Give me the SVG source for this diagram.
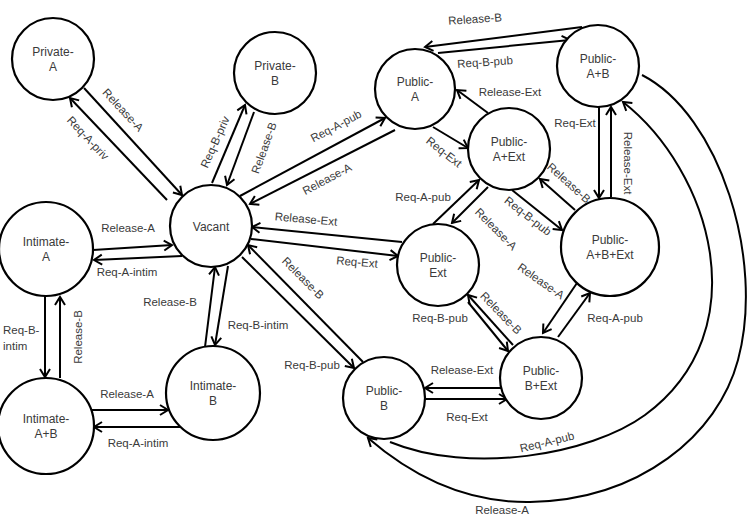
<svg xmlns="http://www.w3.org/2000/svg" width="749" height="522" viewBox="0 0 749 522">
<style>
.n circle{fill:#fff;stroke:#000;stroke-width:2.2}
.n text{font-family:"Liberation Sans",Arial,sans-serif;font-size:12px;fill:#3a3a3a;text-anchor:middle;dominant-baseline:central}
#edges line,#edges path{stroke:#000;stroke-width:2;fill:none;marker-end:url(#ah)}
.l{font-family:"Liberation Sans",Arial,sans-serif;font-size:11.5px;fill:#3a3a3a;text-anchor:middle;dominant-baseline:central}
.ls{text-anchor:start}
</style>
<defs>
<marker id="ah" markerUnits="userSpaceOnUse" markerWidth="14" markerHeight="14" refX="0" refY="0" viewBox="-10 -7 12 14" orient="auto">
<path d="M-8,-5 L0,0 L-8,5" fill="none" stroke="#000" stroke-width="2"/>
</marker>
</defs>
<rect width="749" height="522" fill="#fff"/>
<g id="edges">
<line x1="84" y1="88" x2="182" y2="195"/>
<line x1="167" y1="200" x2="70" y2="98"/>
<line x1="212" y1="183" x2="245" y2="105"/>
<line x1="254" y1="112" x2="227" y2="185"/>
<line x1="240" y1="196" x2="385" y2="118"/>
<line x1="395" y1="130" x2="250" y2="204"/>
<line x1="93" y1="250" x2="172" y2="245"/>
<line x1="182" y1="256" x2="94" y2="260"/>
<line x1="45" y1="296" x2="45" y2="377"/>
<line x1="60" y1="378" x2="60" y2="297"/>
<line x1="87" y1="410" x2="168" y2="410"/>
<line x1="180" y1="427" x2="94" y2="427"/>
<line x1="205" y1="347" x2="215" y2="267"/>
<line x1="228" y1="266" x2="215" y2="345"/>
<line x1="402" y1="242" x2="252" y2="227"/>
<line x1="251" y1="239" x2="398" y2="256"/>
<line x1="363" y1="362" x2="248" y2="245"/>
<line x1="242" y1="257" x2="354" y2="368"/>
<line x1="582" y1="27" x2="425" y2="47"/>
<line x1="438" y1="53" x2="570" y2="40"/>
<line x1="488" y1="113" x2="457" y2="90"/>
<line x1="433" y1="127" x2="468" y2="148"/>
<line x1="599" y1="107" x2="599" y2="198"/>
<line x1="611" y1="197" x2="611" y2="107"/>
<line x1="575" y1="210" x2="540" y2="179"/>
<line x1="512" y1="190" x2="562" y2="230"/>
<line x1="433" y1="224" x2="479" y2="180"/>
<line x1="488" y1="187" x2="452" y2="223"/>
<line x1="468" y1="302" x2="508" y2="351"/>
<line x1="513" y1="345" x2="468" y2="295"/>
<line x1="577" y1="283" x2="543" y2="333"/>
<line x1="558" y1="337" x2="590" y2="293"/>
<line x1="502" y1="388" x2="425" y2="388"/>
<line x1="425" y1="399" x2="507" y2="399"/>
<path d="M390,442 C470,475 590,455 645,415 C760,330 710,170 623,102"/>
<path d="M642,75 C720,115 765,260 738,360 C718,435 640,500 530,502 C460,503 405,470 368,438"/>
</g>
<g id="labels">
<text class="l" transform="translate(123,110) rotate(47)">Release-A</text>
<text class="l" transform="translate(88,138) rotate(47)">Req-A-priv</text>
<text class="l" transform="translate(215,142) rotate(-66)">Req-B-priv</text>
<text class="l" transform="translate(264,148) rotate(-70)">Release-B</text>
<text class="l" transform="translate(336,126) rotate(-28)">Req-A-pub</text>
<text class="l" transform="translate(327,179) rotate(-28)">Release-A</text>
<text class="l" x="128" y="228">Release-A</text>
<text class="l" x="127" y="272">Req-A-intim</text>
<text class="l ls" x="3" y="330">Req-B-</text>
<text class="l ls" x="3" y="346">intim</text>
<text class="l" transform="translate(78,337) rotate(-90)">Release-B</text>
<text class="l" x="127" y="394">Release-A</text>
<text class="l" x="138" y="443">Req-A-intim</text>
<text class="l" x="170" y="302">Release-B</text>
<text class="l" x="258" y="325">Req-B-intim</text>
<text class="l" transform="translate(306,219) rotate(5)">Release-Ext</text>
<text class="l" transform="translate(357,262) rotate(5)">Req-Ext</text>
<text class="l" transform="translate(303,278) rotate(45)">Release-B</text>
<text class="l" x="312" y="365">Req-B-pub</text>
<text class="l" transform="translate(475,19) rotate(-4)">Release-B</text>
<text class="l" transform="translate(485,62) rotate(-4)">Req-B-pub</text>
<text class="l" x="510" y="92">Release-Ext</text>
<text class="l" transform="translate(444,152) rotate(38)">Req-Ext</text>
<text class="l" x="575" y="123">Req-Ext</text>
<text class="l" transform="translate(628,163) rotate(90)">Release-Ext</text>
<text class="l" transform="translate(569,183) rotate(42)">Release-B</text>
<text class="l" transform="translate(528,216) rotate(38)">Req-B-pub</text>
<text class="l" x="423" y="197">Req-A-pub</text>
<text class="l" transform="translate(496,229) rotate(45)">Release-A</text>
<text class="l" x="440" y="318">Req-B-pub</text>
<text class="l" transform="translate(501,313) rotate(46)">Release-B</text>
<text class="l" transform="translate(541,281) rotate(35)">Release-A</text>
<text class="l" x="615" y="318">Req-A-pub</text>
<text class="l" x="462" y="370">Release-Ext</text>
<text class="l" x="467" y="417">Req-Ext</text>
<text class="l" transform="translate(547,442) rotate(-14)">Req-A-pub</text>
<text class="l" x="502" y="510">Release-A</text>
</g>
<g id="private-a" class="n"><circle cx="53" cy="59" r="41"/><text x="53" y="52">Private-</text><text x="53" y="67">A</text></g>
<g id="private-b" class="n"><circle cx="275" cy="73" r="41"/><text x="275" y="66">Private-</text><text x="275" y="81">B</text></g>
<g id="vacant" class="n"><circle cx="211" cy="226" r="41"/><text x="211" y="227">Vacant</text></g>
<g id="intimate-a" class="n"><circle cx="46" cy="249" r="47"/><text x="46" y="242">Intimate-</text><text x="46" y="257">A</text></g>
<g id="intimate-ab" class="n"><circle cx="46" cy="426" r="48"/><text x="46" y="419">Intimate-</text><text x="46" y="434">A+B</text></g>
<g id="intimate-b" class="n"><circle cx="213" cy="393" r="47"/><text x="213" y="386">Intimate-</text><text x="213" y="401">B</text></g>
<g id="public-a" class="n"><circle cx="415" cy="89" r="40"/><text x="415" y="82">Public-</text><text x="415" y="97">A</text></g>
<g id="public-ab" class="n"><circle cx="598" cy="66" r="41"/><text x="598" y="59">Public-</text><text x="598" y="74">A+B</text></g>
<g id="public-aext" class="n"><circle cx="509" cy="149" r="41"/><text x="509" y="142">Public-</text><text x="509" y="157">A+Ext</text></g>
<g id="public-ext" class="n"><circle cx="438" cy="265" r="41"/><text x="438" y="258">Public-</text><text x="438" y="273">Ext</text></g>
<g id="public-abext" class="n"><circle cx="610" cy="247" r="49"/><text x="610" y="240">Public-</text><text x="610" y="255">A+B+Ext</text></g>
<g id="public-bext" class="n"><circle cx="541" cy="378" r="41"/><text x="541" y="371">Public-</text><text x="541" y="386">B+Ext</text></g>
<g id="public-b" class="n"><circle cx="384" cy="398" r="41"/><text x="384" y="391">Public-</text><text x="384" y="406">B</text></g>
</svg>
